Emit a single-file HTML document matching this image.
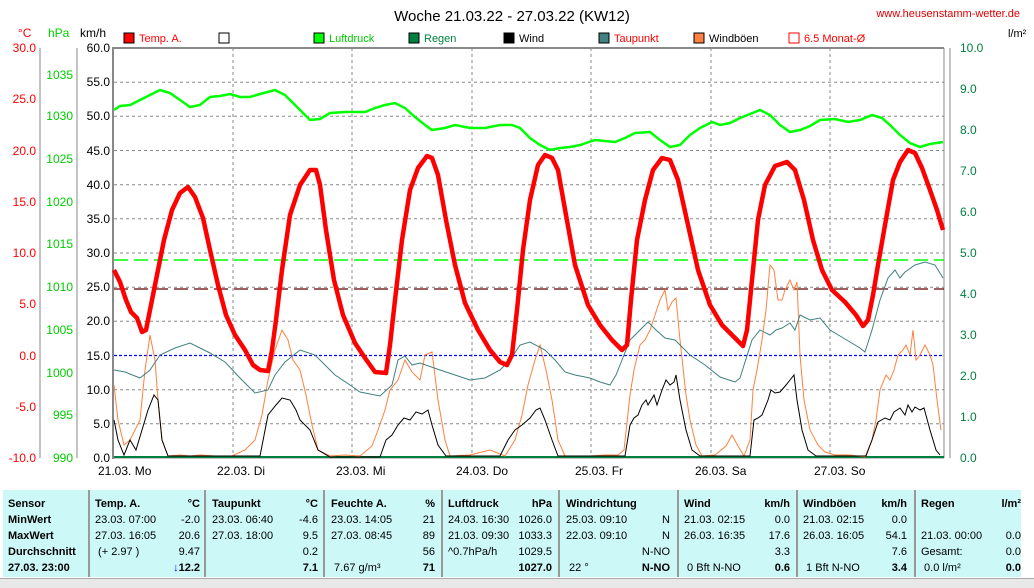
<!DOCTYPE html>
<html><head><meta charset="utf-8"><style>
body{margin:0;background:#fff;width:1034px;height:587px;overflow:hidden;font-family:"Liberation Sans",sans-serif}
svg text{font-family:"Liberation Sans",sans-serif;font-size:12px}
.t{position:absolute;top:490px;height:87px;background:#ccf8f8;font-size:11px;line-height:16px}
.c{position:absolute;top:492px;font-size:11px;line-height:16px;white-space:nowrap}
b{font-weight:bold}
</style></head><body>
<svg width="1034" height="587" style="position:absolute;left:0;top:0">
<text x="512" y="21" text-anchor="middle" style="font-size:15px">Woche 21.03.22 - 27.03.22 (KW12)</text>
<text x="1020" y="17" text-anchor="end" fill="#e00000" style="font-size:11px">www.heusenstamm-wetter.de</text>
<text x="18" y="37" fill="#f00">°C</text><text x="48" y="37" fill="#0c0">hPa</text><text x="80" y="37">km/h</text>
<text x="1008" y="37" style="font-size:11px">l/m²</text>
<!-- legend -->
<g style="font-size:11px">
<rect x="124" y="33" width="10" height="10" fill="#f00" stroke="#000"/><text x="139" y="42" fill="#f00" style="font-size:11px">Temp. A.</text>
<rect x="219" y="33" width="10" height="10" fill="#fff" stroke="#000"/>
<rect x="314" y="33" width="10" height="10" fill="#0f0" stroke="#000"/><text x="329" y="42" fill="#0c0" style="font-size:11px">Luftdruck</text>
<rect x="409" y="33" width="10" height="10" fill="#008040" stroke="#000"/><text x="424" y="42" fill="#008040" style="font-size:11px">Regen</text>
<rect x="504" y="33" width="10" height="10" fill="#000" stroke="#000"/><text x="519" y="42" style="font-size:11px">Wind</text>
<rect x="599" y="33" width="10" height="10" fill="#408080" stroke="#000"/><text x="614" y="42" fill="#f00" style="font-size:11px">Taupunkt</text>
<rect x="694" y="33" width="10" height="10" fill="#ff8040" stroke="#000"/><text x="709" y="42" style="font-size:11px">Windböen</text>
<rect x="789" y="33" width="10" height="10" fill="#fff" stroke="#f00"/><text x="804" y="42" fill="#f00" style="font-size:11px">6.5 Monat-Ø</text>
</g>
<!-- axes -->
<g stroke="#888" fill="none">
<line x1="40" y1="48" x2="40" y2="458"/><line x1="77" y1="48" x2="77" y2="458"/>
<line x1="113" y1="47" x2="113" y2="459" stroke-width="2"/><line x1="113" y1="48" x2="944" y2="48" stroke-width="2"/>
<line x1="944" y1="48" x2="944" y2="458"/><line x1="950" y1="48" x2="950" y2="458"/>
<line x1="113" y1="458" x2="944" y2="458"/>
</g>
<g stroke="#888" stroke-dasharray="3,3">
<line x1="114" y1="82.2" x2="944" y2="82.2"/><line x1="114" y1="116.3" x2="944" y2="116.3"/><line x1="114" y1="150.5" x2="944" y2="150.5"/><line x1="114" y1="184.7" x2="944" y2="184.7"/><line x1="114" y1="218.8" x2="944" y2="218.8"/><line x1="114" y1="253" x2="944" y2="253"/><line x1="114" y1="287.2" x2="944" y2="287.2"/><line x1="114" y1="321.3" x2="944" y2="321.3"/><line x1="114" y1="389.7" x2="944" y2="389.7"/><line x1="114" y1="423.8" x2="944" y2="423.8"/>
<line x1="233" y1="48" x2="233" y2="458"/><line x1="352" y1="48" x2="352" y2="458"/><line x1="472" y1="48" x2="472" y2="458"/><line x1="591" y1="48" x2="591" y2="458"/><line x1="711" y1="48" x2="711" y2="458"/><line x1="830" y1="48" x2="830" y2="458"/>
</g>
<g fill="#f00" text-anchor="end"><text x="36" y="52">30.0</text><text x="36" y="103">25.0</text><text x="36" y="155">20.0</text><text x="36" y="206">15.0</text><text x="36" y="257">10.0</text><text x="36" y="308">5.0</text><text x="36" y="360">0.0</text><text x="36" y="411">-5.0</text><text x="36" y="462">-10.0</text></g>
<g fill="#0c0" text-anchor="end"><text x="73" y="79">1035</text><text x="73" y="120">1030</text><text x="73" y="163">1025</text><text x="73" y="206">1020</text><text x="73" y="248">1015</text><text x="73" y="291">1010</text><text x="73" y="334">1005</text><text x="73" y="377">1000</text><text x="73" y="419">995</text><text x="73" y="462">990</text></g>
<g text-anchor="end"><text x="110" y="52">60.0</text><text x="110" y="86">55.0</text><text x="110" y="120">50.0</text><text x="110" y="155">45.0</text><text x="110" y="189">40.0</text><text x="110" y="223">35.0</text><text x="110" y="257">30.0</text><text x="110" y="291">25.0</text><text x="110" y="325">20.0</text><text x="110" y="360">15.0</text><text x="110" y="394">10.0</text><text x="110" y="428">5.0</text><text x="110" y="462">0.0</text></g>
<g fill="#008040"><text x="960" y="52">10.0</text><text x="960" y="93">9.0</text><text x="960" y="134">8.0</text><text x="960" y="175">7.0</text><text x="960" y="216">6.0</text><text x="960" y="257">5.0</text><text x="960" y="298">4.0</text><text x="960" y="339">3.0</text><text x="960" y="380">2.0</text><text x="960" y="421">1.0</text><text x="960" y="462">0.0</text></g>
<g><text x="98" y="475">21.03.  Mo</text><text x="217" y="475">22.03.  Di</text><text x="336" y="475">23.03.  Mi</text><text x="456" y="475">24.03.  Do</text><text x="575" y="475">25.03.  Fr</text><text x="695" y="475">26.03.  Sa</text><text x="814" y="475">27.03.  So</text></g>
<!-- ref lines -->
<line x1="114" y1="260" x2="944" y2="260" stroke="#0f0" stroke-width="1.5" stroke-dasharray="14,6"/>
<line x1="114" y1="289" x2="944" y2="289" stroke="#600" stroke-width="1.2" stroke-dasharray="14,6"/>
<line x1="114" y1="355.5" x2="944" y2="355.5" stroke="#0000ff" stroke-width="1.3" stroke-dasharray="3,2"/>
<line x1="114" y1="457" x2="944" y2="457" stroke="#008040" stroke-width="2"/>
<!-- gusts -->
<polyline fill="none" stroke="#ff8040" stroke-width="1" points="114,385 118,420 124,445 130,440 135,430 140,420 145,370 150,335 155,360 158,400 162,440 168,456 180,455 190,456 200,455 215,456 232,456 245,450 255,440 262,415 268,380 275,350 282,330 288,340 293,360 300,370 306,395 312,425 318,450 330,456 345,455 360,456 372,446 378,430 385,410 390,390 398,380 405,360 412,372 420,380 425,355 432,352 438,400 445,440 450,456 470,455 490,450 505,456 515,440 522,415 528,385 535,360 540,345 546,370 552,400 558,440 565,456 575,456 590,456 605,455 618,455 624,450 630,395 634,370 640,345 645,340 650,330 655,315 660,300 665,290 668,310 672,302 676,298 680,340 686,395 690,420 696,445 702,456 715,455 726,446 732,435 738,446 744,456 750,440 753,390 757,370 762,340 766,310 770,265 774,270 778,300 782,300 785,290 790,280 794,290 797,282 800,355 804,400 810,430 818,445 825,452 835,455 850,455 865,457 872,440 876,420 880,390 886,375 890,380 894,370 898,355 903,350 906,345 910,355 913,330 916,360 920,355 925,345 930,355 933,365 937,400 941,430"/>
<!-- wind -->
<polyline fill="none" stroke="#000" stroke-width="1" points="114,420 118,440 124,455 130,440 136,450 142,430 148,410 154,395 158,400 162,440 168,456 260,456 268,415 276,405 282,398 290,400 296,410 300,420 310,430 318,450 330,457 380,457 386,440 392,435 398,425 404,418 410,420 416,412 422,414 428,410 432,425 438,445 446,456 500,456 508,440 515,430 522,425 530,418 536,410 540,408 545,420 552,440 558,456 625,456 630,425 634,418 638,415 642,405 646,400 648,405 654,395 657,405 662,390 666,380 670,385 674,382 676,375 680,400 686,430 692,450 700,456 750,456 754,420 758,418 762,415 768,400 771,390 775,393 780,392 786,385 790,380 794,375 797,400 802,430 808,450 816,456 866,456 872,440 878,422 885,418 890,420 894,412 900,408 905,415 908,405 912,412 915,407 920,410 924,408 930,430 936,450 940,455"/>
<!-- dewpoint -->
<polyline fill="none" stroke="#408080" stroke-width="1" points="114,370 125,372 140,378 150,370 160,355 175,348 190,343 200,348 210,353 225,362 240,378 255,393 268,390 275,375 285,362 300,350 315,355 325,365 335,375 350,385 360,392 380,396 392,385 398,360 405,356 412,365 420,363 440,370 455,375 470,380 485,378 500,370 510,360 520,345 530,342 545,350 555,360 565,372 575,375 590,378 600,382 610,385 616,375 622,360 630,340 640,330 648,322 656,330 665,338 675,340 690,355 705,365 720,377 735,382 740,378 745,362 752,340 760,330 770,335 776,330 782,328 790,323 795,330 800,315 810,320 820,318 830,330 840,336 850,342 860,348 865,352 872,330 880,300 888,278 895,270 900,278 905,272 915,265 925,262 935,265 943,278"/>
<!-- pressure -->
<polyline fill="none" stroke="#0f0" stroke-width="2.5" points="114,110 120,106 130,105 140,100 150,95 160,90 170,93 180,100 190,107 200,105 210,97 220,96 230,94 240,97 250,97 260,94 275,90 285,95 295,105 302,112 310,120 320,119 330,113 345,112 365,112 375,108 385,105 395,103 405,108 415,117 425,125 432,130 445,128 455,125 470,128 485,128 500,125 512,125 520,128 530,138 540,145 550,150 560,148 570,147 580,145 595,140 615,142 625,138 635,133 650,132 660,140 670,147 680,145 690,135 700,128 712,122 720,125 730,123 740,118 750,114 760,110 770,115 780,125 790,132 800,130 810,126 820,120 835,119 848,122 860,120 872,115 882,118 890,125 900,135 910,143 920,147 930,144 943,142"/>
<!-- temperature -->
<polyline fill="none" stroke="#f00" stroke-width="4.5" stroke-linejoin="round" points="114,270 120,282 126,300 131,312 137,318 142,332 146,330 150,310 156,280 164,240 172,210 180,193 188,187 195,197 203,218 210,250 218,285 226,315 235,335 245,350 253,365 260,370 268,371 272,350 276,320 282,270 290,215 300,185 310,170 316,170 320,185 326,230 334,280 343,315 355,343 365,358 375,372 386,373 390,345 395,300 402,240 410,190 418,168 427,156 432,158 438,175 446,220 455,265 465,303 478,330 490,350 500,362 507,365 512,355 517,310 523,250 530,200 538,165 545,155 552,158 558,170 566,215 575,265 588,305 600,325 612,340 622,350 627,345 631,300 637,240 645,200 653,170 662,158 670,160 678,180 688,225 698,270 710,305 722,325 735,338 743,346 747,330 752,280 758,220 765,185 775,166 787,162 795,170 804,200 813,240 822,270 832,290 845,302 856,315 863,326 868,320 873,295 878,265 885,225 893,180 900,162 908,150 915,153 922,168 930,190 937,210 943,230"/>
</svg>
<div class="t" style="left:3px;width:1018px"></div>
<div style="position:absolute;left:0;top:578px;width:1034px;height:9px;background:#e8e8e8;border-top:1px solid #aaa"></div>
<div style="position:absolute;top:490px;height:87px;left:88px;border-left:2px solid #999"></div>
<div style="position:absolute;top:490px;height:87px;left:204px;border-left:2px solid #999"></div>
<div style="position:absolute;top:490px;height:87px;left:323px;border-left:2px solid #999"></div>
<div style="position:absolute;top:490px;height:87px;left:441px;border-left:2px solid #999"></div>
<div style="position:absolute;top:490px;height:87px;left:558px;border-left:2px solid #999"></div>
<div style="position:absolute;top:490px;height:87px;left:677px;border-left:2px solid #999"></div>
<div style="position:absolute;top:490px;height:87px;left:796px;border-left:2px solid #999"></div>
<div style="position:absolute;top:490px;height:87px;left:914px;border-left:2px solid #999"></div>
<div class="c" style="left:8px;top:496px;font-weight:bold">Sensor<br>MinWert<br>MaxWert<br>Durchschnitt<br>27.03. 23:00</div>
<div class="c" style="left:95px;top:496px"><b>Temp. A.</b><br>23.03. 07:00<br>27.03. 16:05<br>&nbsp;(+ 2.97 )</div>
<div class="c" style="left:150px;top:496px;width:50px;text-align:right"><b>°C</b><br>-2.0<br>20.6<br>9.47<br><b><span style="color:#00f">↓</span>12.2</b></div>
<div class="c" style="left:212px;top:496px"><b>Taupunkt</b><br>23.03. 06:40<br>27.03. 18:00</div>
<div class="c" style="left:268px;top:496px;width:50px;text-align:right"><b>°C</b><br>-4.6<br>9.5<br>0.2<br><b>7.1</b></div>
<div class="c" style="left:331px;top:496px"><b>Feuchte A.</b><br>23.03. 14:05<br>27.03. 08:45<br><br>&nbsp;7.67 g/m³</div>
<div class="c" style="left:385px;top:496px;width:50px;text-align:right"><b>%</b><br>21<br>89<br>56<br><b>71</b></div>
<div class="c" style="left:448px;top:496px"><b>Luftdruck</b><br>24.03. 16:30<br>21.03. 09:30<br>^0.7hPa/h</div>
<div class="c" style="left:502px;top:496px;width:50px;text-align:right"><b>hPa</b><br>1026.0<br>1033.3<br>1029.5<br><b>1027.0</b></div>
<div class="c" style="left:566px;top:496px"><b>Windrichtung</b><br>25.03. 09:10<br>22.03. 09:10<br><br>&nbsp;22 °</div>
<div class="c" style="left:620px;top:496px;width:50px;text-align:right">&nbsp;<br>N<br>N<br>N-NO<br><b>N-NO</b></div>
<div class="c" style="left:684px;top:496px"><b>Wind</b><br>21.03. 02:15<br>26.03. 16:35<br><br>&nbsp;0 Bft N-NO</div>
<div class="c" style="left:740px;top:496px;width:50px;text-align:right"><b>km/h</b><br>0.0<br>17.6<br>3.3<br><b>0.6</b></div>
<div class="c" style="left:803px;top:496px"><b>Windböen</b><br>21.03. 02:15<br>26.03. 16:05<br><br>&nbsp;1 Bft N-NO</div>
<div class="c" style="left:857px;top:496px;width:50px;text-align:right"><b>km/h</b><br>0.0<br>54.1<br>7.6<br><b>3.4</b></div>
<div class="c" style="left:921px;top:496px"><b>Regen</b><br><br>21.03. 00:00<br>Gesamt:<br>&nbsp;0.0 l/m²</div>
<div class="c" style="left:970px;top:496px;width:51px;text-align:right"><b>l/m²</b><br><br>0.0<br>0.0<br><b>0.0</b></div>
</body></html>
